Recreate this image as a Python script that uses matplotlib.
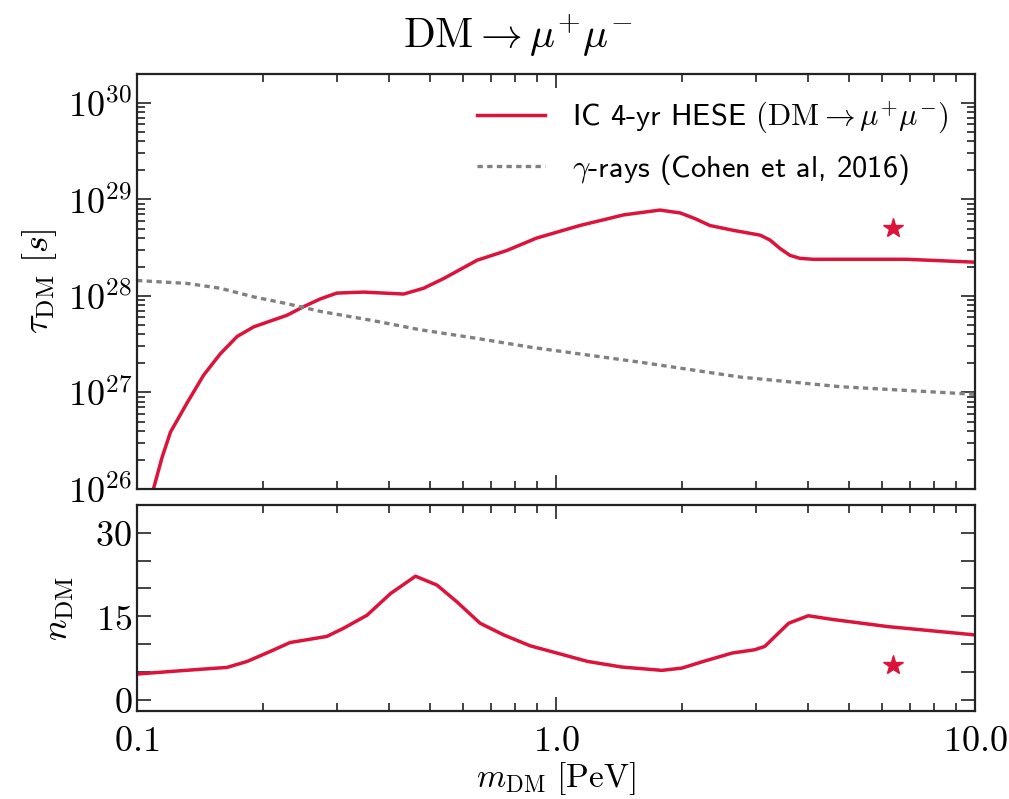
import numpy as np
import matplotlib
matplotlib.use("Agg")
import matplotlib.pyplot as plt
from matplotlib.ticker import FixedLocator, FuncFormatter, LogLocator, NullFormatter

plt.rcParams["mathtext.fontset"] = "cm"
plt.rcParams["font.family"] = ["DejaVu Sans"]

# IceCube 4-yr HESE lifetime bound, DM -> mu+ mu-  (log10 of tau in s)
m_ic = [0.105, 0.1096, 0.1148, 0.1202, 0.1316, 0.1442, 0.158, 0.1733, 0.1899, 0.208,
        0.228, 0.250, 0.274, 0.300, 0.3475, 0.388, 0.433, 0.483, 0.539, 0.648,
        0.762, 0.899, 1.14, 1.45, 1.77, 1.98, 2.15, 2.33, 2.65, 3.07,
        3.24, 3.43, 3.62, 3.82, 4.11, 4.76, 6.87, 10.0]
log_tau_ic = [25.75, 26.01, 26.33, 26.59, 26.89, 27.18, 27.40, 27.58, 27.68, 27.74,
              27.80, 27.89, 27.97, 28.03, 28.04, 28.03, 28.02, 28.08, 28.18, 28.37,
              28.47, 28.60, 28.73, 28.84, 28.89, 28.86, 28.80, 28.73, 28.68, 28.63,
              28.58, 28.49, 28.42, 28.39, 28.38, 28.38, 28.38, 28.35]

# gamma-ray lifetime bound (Cohen et al. 2016)
m_gamma = [0.1, 0.1316, 0.158, 0.19, 0.228, 0.274, 0.360, 0.474, 0.648, 0.867,
           1.61, 2.75, 4.76, 9.2, 10.0]
log_tau_gamma = [28.16, 28.13, 28.08, 27.99, 27.92, 27.84, 27.75, 27.65, 27.56, 27.47,
                 27.31, 27.16, 27.06, 26.99, 26.98]

# number of signal events
m_n = [0.1, 0.1269, 0.164, 0.1832, 0.208, 0.232, 0.2594, 0.284, 0.311, 0.354,
       0.403, 0.462, 0.52, 0.58, 0.659, 0.75, 0.868, 1.0, 1.19, 1.435,
       1.79, 1.995, 2.27, 2.63, 2.98, 3.15, 3.59, 4.0, 4.55, 6.2, 10.0]
n_dm = [4.64, 5.23, 5.83, 6.9, 8.7, 10.3, 10.9, 11.4, 12.85, 15.2,
        19.1, 22.2, 20.6, 17.6, 13.75, 11.66, 9.7, 8.45, 6.9, 5.9,
        5.3, 5.7, 7.0, 8.4, 9.0, 9.6, 13.75, 15.1, 14.46, 13.15, 11.66]

# best-fit point
m_star = 6.37
log_tau_star = 28.70
n_star = 6.3

red = "#DC143C"
grey = "#808080"

fig = plt.figure(figsize=(10.09, 7.99), dpi=100)
ax1 = fig.add_axes([0.1358, 0.388, 0.8305, 0.5194])
ax2 = fig.add_axes([0.1358, 0.1101, 0.8305, 0.258])

ax1.plot(m_ic, 10.0 ** np.array(log_tau_ic), color=red, lw=2.5,
         solid_joinstyle="round",
         label=r"IC 4-yr HESE $(\mathrm{DM} \rightarrow \mu^{+}\mu^{-})$")
ax1.plot(m_gamma, 10.0 ** np.array(log_tau_gamma), color=grey, lw=2.4,
         dashes=(1.6, 1.3), label=r"$\gamma$-rays (Cohen et al, 2016)")
ax1.plot([m_star], [10.0 ** log_tau_star], marker="*", color=red, ms=15, ls="none")

ax2.plot(m_n, n_dm, color=red, lw=2.5, solid_joinstyle="round")
ax2.plot([m_star], [n_star], marker="*", color=red, ms=15, ls="none")

for ax in (ax1, ax2):
    ax.set_xscale("log")
    ax.set_xlim(0.1, 10.0)
    ax.tick_params(which="both", direction="in", top=True, right=True, width=1.2,
                   labelsize=26, color="#222222")
    ax.tick_params(which="major", length=10)
    ax.tick_params(which="minor", length=6)
    for s in ax.spines.values():
        s.set_linewidth(1.6)
        s.set_color("#222222")

ax1.set_yscale("log")
ax1.set_ylim(1e26, 10 ** 30.3)
ax1.yaxis.set_major_locator(FixedLocator([1e26, 1e27, 1e28, 1e29, 1e30]))
ax1.yaxis.set_minor_locator(LogLocator(base=10, subs=np.arange(2, 10)))
ax1.yaxis.set_minor_formatter(NullFormatter())
ax1.yaxis.set_major_formatter(FuncFormatter(lambda v, p: r"$10^{%d}$" % round(np.log10(v))))
ax1.xaxis.set_major_formatter(NullFormatter())
ax1.xaxis.set_minor_formatter(NullFormatter())
ax1.set_ylabel(r"$\tau_{\rm DM}\ [s]$", fontsize=26, labelpad=6)

ax2.set_ylim(-2, 35)
ax2.yaxis.set_major_locator(FixedLocator([0, 15, 30]))
ax2.yaxis.set_minor_locator(FixedLocator([5, 10, 20, 25]))
ax2.tick_params(axis="y", which="minor", length=10)
ax2.tick_params(axis="x", which="major", pad=9)
ax2.yaxis.set_major_formatter(FuncFormatter(lambda v, p: r"$%d$" % v))
ax2.xaxis.set_major_locator(FixedLocator([0.1, 1.0, 10.0]))
ax2.xaxis.set_minor_locator(LogLocator(base=10, subs=np.arange(2, 10)))
ax2.xaxis.set_minor_formatter(NullFormatter())
ax2.xaxis.set_major_formatter(FuncFormatter(lambda v, p: r"$%.1f$" % v))
ax2.set_ylabel(r"$n_{\rm DM}$", fontsize=26, labelpad=14)
ax2.set_xlabel(r"$m_{\rm DM}\ [\mathrm{PeV}]$", fontsize=24, labelpad=2)

ax1.legend(loc="upper right", frameon=False,
           prop={"family": ["cmss10", "DejaVu Sans"], "size": 22},
           handlelength=2.2, handletextpad=0.9, borderaxespad=0.45, labelspacing=0.5)

fig.align_ylabels([ax1, ax2])
fig.text(0.513, 0.955, r"$\mathrm{DM} \rightarrow \mu^{+}\mu^{-}$", fontsize=30,
         ha="center", va="center")

fig.savefig("out.png", dpi=100)
